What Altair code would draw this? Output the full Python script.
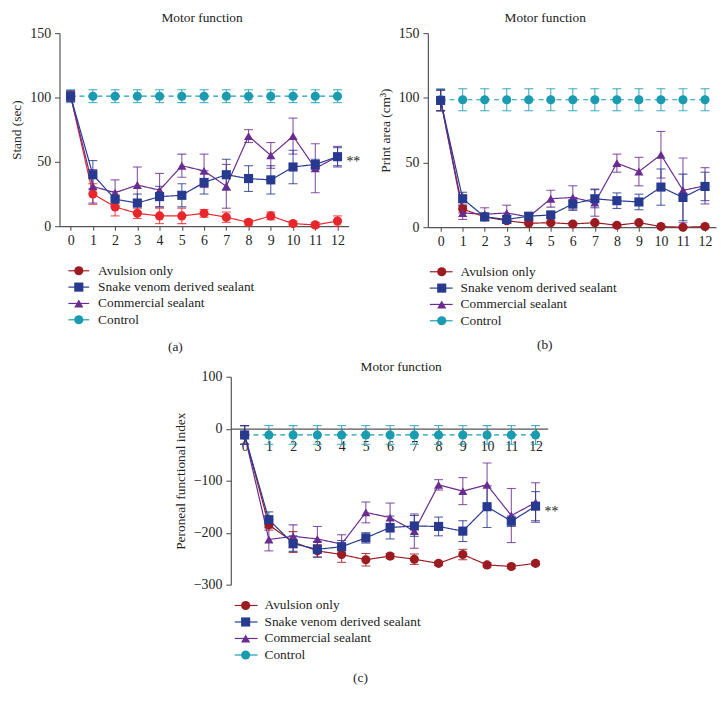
import altair as alt
import pandas as pd

FONT = "Liberation Serif"

days = list(range(13))
series_names = ["Avulsion only", "Snake venom derived sealant", "Commercial sealant", "Control"]
draw_order = ["Control", "Avulsion only", "Commercial sealant", "Snake venom derived sealant"]

# ---- Panel (a): Stand (sec)
a_avulsion = [101, 25, 15, 10, 8, 8, 10, 7, 3, 8, 2, 1, 4]
a_avulsion_err = [4, 8, 7, 4, 6, 6, 3, 4, 2, 3, 2, 2, 4]
a_snake = [101, 40, 21, 18, 23, 24, 34, 40, 37, 36, 46, 48, 54]
a_snake_err = [4, 11, 6, 7, 8, 9, 9, 12, 10, 11, 13, 4, 7]
a_comm = [101, 31, 26, 32, 28, 47, 43, 31, 70, 55, 70, 45, 54]
a_comm_err = [4, 13, 10, 14, 13, 9, 13, 17, 5, 10, 14, 19, 8]
a_ctrl = [101] * 13
a_ctrl_err = [5] * 13

# ---- Panel (b): Print area (cm3)
b_avulsion = [98, 14, 8, 5, 3, 3.5, 2.5, 3.5, 1.5, 3.5, 0.5, 0, 0.5]
b_avulsion_err = [8, 3, 2, 1.5, 1, 1, 1, 1, 1, 1, 0.5, 0.5, 0.5]
b_snake = [98, 22, 8, 6, 8.5, 9.5, 18, 22, 20.5, 19.5, 31, 23, 31.5]
b_snake_err = [8, 5, 2, 3, 2, 2, 5, 7, 6, 6, 14, 18, 11]
b_comm = [98, 11, 10, 11, 8, 22, 23, 19, 49.5, 43, 56, 28.5, 32]
b_comm_err = [8, 5, 5, 6, 3, 6.5, 9, 10.5, 7, 11, 18, 25, 14]
b_ctrl = [98.5] * 13
b_ctrl_err = [8.5] * 13

# ---- Panel (c): Peroneal functional index
c_avulsion = [-12, -185, -218, -235, -242, -252, -245, -251, -259, -242, -262, -265, -259]
c_avulsion_err = [18, 10, 20, 12, 15, 12, 5, 10, 4, 10, 4, 4, 4]
c_snake = [-12, -175, -221, -232, -227, -210, -190, -187, -188, -197, -150, -178, -149]
c_snake_err = [18, 15, 15, 15, 12, 10, 22, 20, 18, 20, 40, 10, 28]
c_comm = [-12, -213, -207, -212, -222, -161, -171, -197, -108, -120, -108, -167, -142]
c_comm_err = [18, 22, 22, 24, 18, 20, 28, 33, 10, 26, 42, 52, 38]
c_ctrl = [-12] * 13
c_ctrl_err = [18] * 13

annot_a = {"day": [12], "value": [54], "label": ["**"]}
annot_c = {"day": [12], "value": [-150], "label": ["**"]}

dark_red = "#9B1B21"
bright_red = "#E8262B"
blue = "#283A8F"
purple = "#6A2C8F"
teal = "#1A9BB0"
legend_colors = [dark_red, blue, purple, teal]
shapes = ["circle", "square", "triangle-up", "circle"]


def long_df(vals, errs):
    rows = []
    for s in draw_order:
        for d, v, e in zip(days, vals[s], errs[s]):
            rows.append(dict(day=d, value=v, lo=v - e, hi=v + e, series=s))
    return pd.DataFrame(rows)


def panel(df, ydom, yticks, ytitle, w, h, xdom, colors, leg_line, leg_pt, leg_txt,
          leg_rows, caption, cap_xy, annot, title_dx, title_offset, xaxis_offset=0,
          xlabel_pad=3):
    xs = alt.Scale(domain=xdom, nice=False, zero=False)
    x_ax = alt.Axis(values=days, offset=xaxis_offset, labelFlush=False,
                    format="d", tickSize=4, labelPadding=xlabel_pad)
    y_ax = alt.Axis(values=yticks, tickSize=5, labelPadding=4, titlePadding=6)
    ys = alt.Scale(domain=ydom, nice=False, zero=False)

    def X():
        return alt.X("day:Q", scale=xs, title=None, axis=x_ax)

    def Y(field):
        return alt.Y(field, scale=ys, title=ytitle, axis=y_ax)

    color = alt.Color("series:N", scale=alt.Scale(domain=series_names, range=colors), legend=None)
    shape = alt.Shape("series:N", scale=alt.Scale(domain=series_names, range=shapes), legend=None)
    dash = alt.StrokeDash("series:N", scale=alt.Scale(domain=series_names,
                          range=[[1, 0], [1, 0], [1, 0], [5, 4]]), legend=None)
    base = alt.Chart(df)
    rules = base.mark_rule(strokeWidth=1.1, opacity=0.8).encode(
        x=X(), y=Y("lo:Q"), y2="hi:Q", color=color)
    cap_lo = base.mark_tick(orient="horizontal", size=9, thickness=1.1, opacity=0.8).encode(
        x=X(), y=Y("lo:Q"), color=color)
    cap_hi = base.mark_tick(orient="horizontal", size=9, thickness=1.1, opacity=0.8).encode(
        x=X(), y=Y("hi:Q"), color=color)
    lines = base.mark_line(strokeWidth=1.2).encode(
        x=X(), y=Y("value:Q"), color=color, strokeDash=dash, detail="series:N")
    points = base.mark_point(filled=True, size=85, opacity=1).encode(
        x=X(), y=Y("value:Q"), color=color, shape=shape)
    layers = [rules, cap_lo, cap_hi, lines, points]
    if annot is not None:
        layers.append(alt.Chart(pd.DataFrame(annot)).mark_text(
            align="left", baseline="middle", dx=9, dy=5,
            font=FONT, fontSize=14, color="#222").encode(
            x=X(), y=Y("value:Q"), text="label:N"))
    plot = alt.layer(*layers)

    ldf = pd.DataFrame({"series": series_names})
    ly = alt.Y("series:N", sort=series_names,
               scale=alt.Scale(type="point", domain=series_names, range=leg_rows, padding=0),
               axis=None)
    lrule = alt.Chart(ldf).mark_rule(strokeWidth=1.2).encode(
        x=alt.value(leg_line[0]), x2=alt.value(leg_line[1]), y=ly,
        stroke=alt.Stroke("series:N", scale=alt.Scale(domain=series_names, range=legend_colors), legend=None))
    lpt = alt.Chart(ldf).mark_point(filled=True, size=85, opacity=1).encode(
        x=alt.value(leg_pt), y=ly,
        fill=alt.Fill("series:N", scale=alt.Scale(domain=series_names, range=legend_colors), legend=None),
        shape=shape)
    ltxt = alt.Chart(ldf).mark_text(align="left", baseline="middle", font=FONT,
                                    fontSize=13.5, color="#222").encode(
        x=alt.value(leg_txt), y=ly, text="series:N")
    cap = alt.Chart(pd.DataFrame({"t": [caption]})).mark_text(
        align="center", baseline="middle", font=FONT, fontSize=13.5, color="#222").encode(
        x=alt.value(cap_xy[0]), y=alt.value(cap_xy[1]), text="t:N")
    legend = alt.layer(lrule, lpt, ltxt, cap)

    return alt.layer(plot, legend).resolve_scale(y="independent").properties(
        width=w, height=h,
        title=alt.TitleParams("Motor function", font=FONT, fontSize=13.5, fontWeight="normal",
                              color="#222", offset=title_offset, dx=title_dx))


df_a = long_df({"Avulsion only": a_avulsion, "Snake venom derived sealant": a_snake,
                "Commercial sealant": a_comm, "Control": a_ctrl},
               {"Avulsion only": a_avulsion_err, "Snake venom derived sealant": a_snake_err,
                "Commercial sealant": a_comm_err, "Control": a_ctrl_err})
df_b = long_df({"Avulsion only": b_avulsion, "Snake venom derived sealant": b_snake,
                "Commercial sealant": b_comm, "Control": b_ctrl},
               {"Avulsion only": b_avulsion_err, "Snake venom derived sealant": b_snake_err,
                "Commercial sealant": b_comm_err, "Control": b_ctrl_err})
df_c = long_df({"Avulsion only": c_avulsion, "Snake venom derived sealant": c_snake,
                "Commercial sealant": c_comm, "Control": c_ctrl},
               {"Avulsion only": c_avulsion_err, "Snake venom derived sealant": c_snake_err,
                "Commercial sealant": c_comm_err, "Control": c_ctrl_err})

pa = panel(df_a, [0, 150], [0, 50, 100, 150], "Stand (sec)", 292, 195, [-0.5, 12.5],
           [bright_red, blue, purple, teal], (9, 30), 19.5, 39, [240, 289.5],
           "(a)", (117, 317), annot_a, -2, 2)
pb = panel(df_b, [0, 150], [0, 50, 100, 150], "Print area (cm³)", 291, 196, [-0.58, 12.5],
           [dark_red, blue, purple, teal], (2, 25), 14, 33, [241, 290.5],
           "(b)", (118, 315), None, -27, 2)
pc = panel(df_c, [-300, 100], [-300, -200, -100, 0, 100], "Peroneal functional index",
           320, 210, [-0.57, 12.5], [dark_red, blue, purple, teal], (4, 27), 15, 34,
           [231, 281], "(c)", (131, 304), annot_c, 12, -4, xaxis_offset=-157.5,
           xlabel_pad=7)

# empty spacer view that pushes panel (c) to its place under the top row
spacer = alt.Chart(pd.DataFrame({"t": [""]})).mark_text(opacity=0).encode(
    x=alt.value(0), y=alt.value(0), text="t:N").properties(width=115, height=10)

row1 = alt.hconcat(pa, pb, spacing=18).resolve_scale(color="independent")
row2 = alt.hconcat(spacer, pc, spacing=0).resolve_scale(color="independent")
chart = alt.vconcat(row1, row2, spacing=6).resolve_scale(
    color="independent"
).properties(
    padding={"left": 2, "top": -1, "right": 2, "bottom": 2}
).configure_view(stroke=None).configure_axis(
    labelFont=FONT, labelFontSize=14, labelColor="#222",
    titleFont=FONT, titleFontSize=13.5, titleFontWeight="normal", titleColor="#222",
    domainColor="#555", tickColor="#555", domainWidth=1.2, tickWidth=1.1, grid=False
)

chart.save("out.html", embed_options={"renderer": "svg", "actions": False})
